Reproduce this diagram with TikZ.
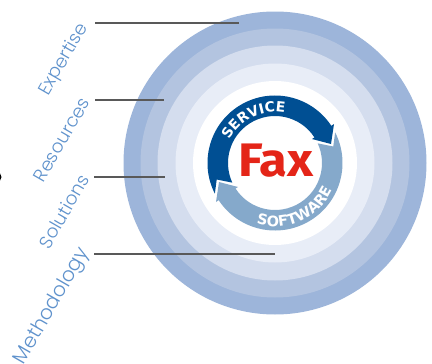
\documentclass[tikz,border=0pt]{standalone}
\usepackage{fontspec}
\setmainfont{Lato}
\newfontfamily\labelfont{Poppins Light}
\newfontfamily\badgefont{Fira Sans}
\newfontfamily\arcfont{DejaVu Sans}
\usetikzlibrary{decorations.text}
\definecolor{ringA}{HTML}{9DB5DA}
\definecolor{ringB}{HTML}{B3C4E0}
\definecolor{ringC}{HTML}{D4DDEE}
\definecolor{ringD}{HTML}{E8EDF7}
\definecolor{svcblue}{HTML}{004F93}
\definecolor{swblue}{HTML}{85A9CB}
\definecolor{faxred}{HTML}{E42518}
\definecolor{labelblue}{HTML}{5F92CC}
\definecolor{leader}{HTML}{595959}
\tikzset{
  ringlabel/.style={text=labelblue,font=\labelfont\fontsize{18.3}{18.3}\selectfont,rotate=60,anchor=east,inner sep=0pt},
  leaderline/.style={draw=leader,line width=1.3pt},
  arrowband/.pic={
    \fill[pic actions] (207:67.5) arc[start angle=207,end angle=33.4,radius=67.5]
      -- (59,39) -- (56,19) -- (37,24) -- (33:47)
      arc[start angle=33,end angle=204.7,radius=47]
      -- (-58.3,-16.5) -- cycle;
  },
}
\begin{document}
\begin{tikzpicture}[x=1pt,y=-1pt]
\useasboundingbox (0,0) rectangle (432,364);
\coordinate (c) at (275,163);
\fill[ringA] (c) circle (151.5);
\fill[ringB] (c) circle (134.5);
\fill[ringC] (c) circle (117.5);
\fill[ringD] (c) circle (99.5);
\fill[white] (c) circle (82);
\begin{scope}[shift={(c)},x=1pt,y=1pt]
  \pic[svcblue] {arrowband};
  \pic[swblue,rotate=180] {arrowband};
  \path[decorate,decoration={text along path,text align=center,
    text={|\arcfont\bfseries\fontsize{14}{14}\selectfont\color{white}|SERVICE}}]
    (165:51) arc[start angle=165,end angle=67,radius=51];
  \path[decorate,decoration={text along path,text align=center,
    text={|\arcfont\bfseries\fontsize{14.5}{14.5}\selectfont\color{white}|SOFTWARE}}]
    (239:63.5) arc[start angle=239,end angle=349,radius=63.5];
\end{scope}
\fill[black] (-3.5,177) circle (5);
\coordinate (e1) at (95,23); \coordinate (e2) at (239,23);
\coordinate (r1) at (95,100); \coordinate (r2) at (164,100);
\coordinate (s1) at (94,177); \coordinate (s2) at (165,177);
\coordinate (m1) at (94,254); \coordinate (m2) at (275,254);
\draw[leaderline] (e1)--(e2);
\draw[leaderline] (r1)--(r2);
\draw[leaderline] (s1)--(s2);
\draw[leaderline] (m1)--(m2);
\node[ringlabel] (t1) at (84,25) {Expertise};
\node[ringlabel] (t2) at (85,99) {Resources};
\node[ringlabel] (t3) at (84,176) {Solutions};
\node[ringlabel,font=\labelfont\fontsize{20}{20}\selectfont] (t4) at (85,250) {Methodology};
\node[text=faxred,font=\badgefont\bfseries\fontsize{47}{47}\selectfont,inner sep=0pt,xscale=1.08] (fax) at (276,161) {Fax};
\end{tikzpicture}
\end{document}
